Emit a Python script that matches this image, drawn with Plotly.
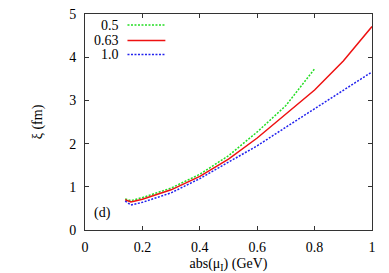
import plotly.graph_objects as go

x_green = [0.14, 0.16, 0.2, 0.3, 0.4, 0.5, 0.6, 0.7, 0.8]
y_green = [0.72, 0.68, 0.75, 0.97, 1.29, 1.72, 2.27, 2.88, 3.73]

x_red = [0.14, 0.16, 0.2, 0.3, 0.4, 0.5, 0.6, 0.7, 0.8, 0.9, 1.0]
y_red = [0.70, 0.65, 0.71, 0.93, 1.24, 1.64, 2.13, 2.69, 3.24, 3.91, 4.71]

x_blue = [0.14, 0.16, 0.2, 0.3, 0.4, 0.5, 0.6, 0.7, 0.8, 0.9, 1.0]
y_blue = [0.67, 0.58, 0.64, 0.86, 1.19, 1.57, 1.95, 2.38, 2.81, 3.24, 3.66]

labels = ["0.5", "0.63", "1.0"]
colors = ["#22dd22", "#ee1111", "#2222ee"]
dashes = ["2px,1.5px", "solid", "2px,1.5px"]

FONT = "Liberation Serif"
fig = go.Figure()
series = [(x_green, y_green), (x_red, y_red), (x_blue, y_blue)]
for (xs, ys), lab, c, d in zip(series, labels, colors, dashes):
    fig.add_trace(go.Scatter(x=xs, y=ys, mode="lines", name=lab,
                             line=dict(color=c, width=1.5, dash=d),
                             showlegend=False))

# manual legend (text left of sample line)
rows = [0.949, 0.877, 0.812]
for lab, c, d, yy in zip(labels, colors, dashes, rows):
    fig.add_annotation(x=0.127, y=yy, xref="paper", yref="paper", text=lab,
                       showarrow=False, xanchor="right", yanchor="middle",
                       font=dict(family=FONT, size=14, color="black"))
    fig.add_shape(type="line", xref="paper", yref="paper",
                  x0=0.148, x1=0.28, y0=yy, y1=yy,
                  line=dict(color=c, width=1.5, dash=d))

fig.add_annotation(x=0.061, y=0.39, xref="x", yref="y", text="(d)",
                   showarrow=False, font=dict(family=FONT, size=14, color="black"))

axis_common = dict(showgrid=False, zeroline=False, showline=True, linecolor="#333",
                   linewidth=1, mirror="ticks", ticks="inside", ticklen=4,
                   tickcolor="#333", automargin=False, ticklabeloverflow="allow",
                   tickfont=dict(family=FONT, size=14, color="black"))

fig.update_layout(
    width=381, height=265,
    margin=dict(l=77, r=16.5, t=6, b=43),
    paper_bgcolor="white", plot_bgcolor="white",
    xaxis=dict(range=[0, 1], tickvals=[0, 0.2, 0.4, 0.6, 0.8, 1],
               ticktext=["0", "0.2", "0.4", "0.6", "0.8", "1"],
               ticklabelstandoff=4,
               title=dict(text="abs(μ<sub>I</sub>) (GeV)", standoff=9,
                          font=dict(family=FONT, size=14, color="black")),
               **axis_common),
    yaxis=dict(range=[0, 5], tickvals=[0, 1, 2, 3, 4, 5],
               ticklabelstandoff=5,
               title=dict(text="ξ (fm)", standoff=23,
                          font=dict(family=FONT, size=14, color="black")),
               **axis_common),
)

fig.write_html("out.html")
